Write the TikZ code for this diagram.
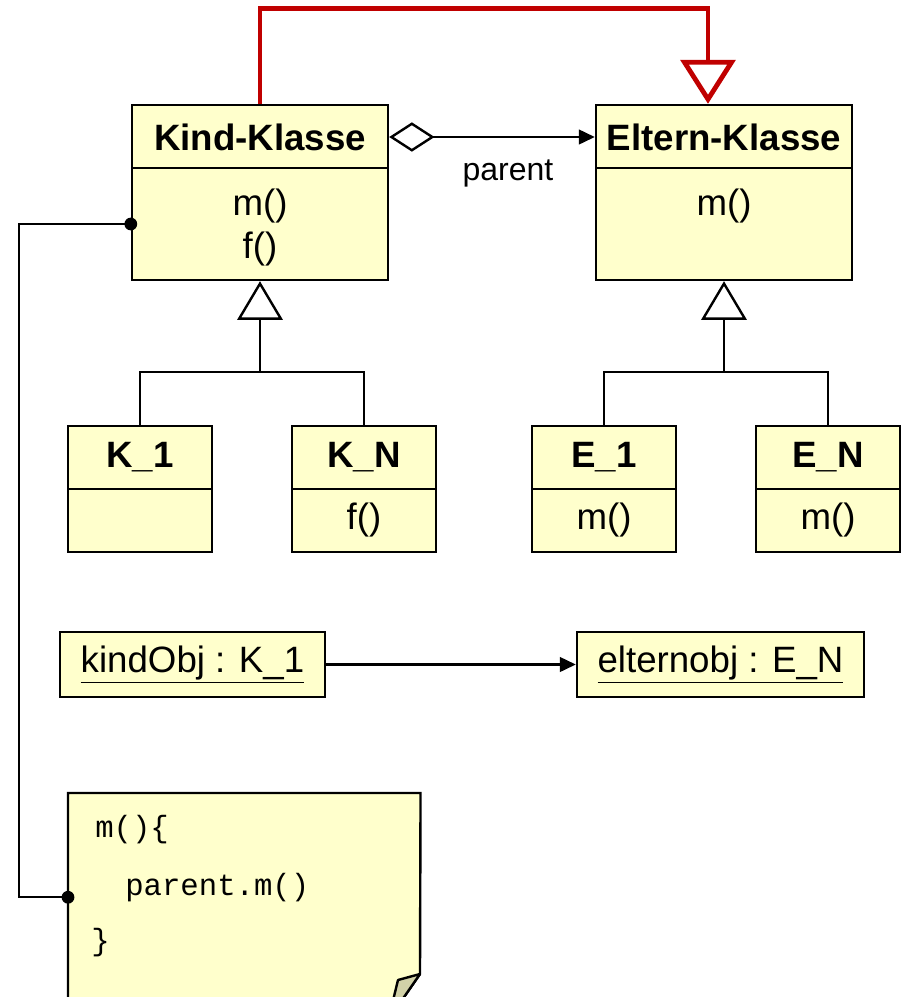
\documentclass[tikz,border=0pt]{standalone}
\usepackage{fontspec}
\setmainfont{Liberation Sans}
\setmonofont{Liberation Mono}
\usetikzlibrary{arrows.meta}
\definecolor{boxfill}{HTML}{FFFFCC}
\definecolor{foldfill}{HTML}{D2D2A8}
\definecolor{inhred}{HTML}{C00000}

\begin{document}
\begin{tikzpicture}[x=0.75pt,y=-0.75pt,
  ln/.style={line width=1.8pt},
  box/.style 2 args={draw, ln, fill=boxfill, inner sep=0pt,
    minimum width=#1*0.75pt, minimum height=#2*0.75pt,
    font=\fontsize{27.5}{32}\selectfont},
  hdr/.style={font=\bfseries\fontsize{27.5}{32}\selectfont},
  txt/.style={inner sep=0pt, font=\fontsize{27.5}{32}\selectfont},
  code/.style={inner sep=0pt, anchor=base west, font=\ttfamily\fontsize{23}{28}\selectfont},
  gen/.style={draw, ln, -{Triangle[open, length=29pt, width=34pt]}},
  nav/.style={draw, ln, -{Triangle[length=12pt, width=11pt]}},
  agg/.style={draw, ln, {Diamond[open, length=34pt, width=22pt]}-{Triangle[length=12pt, width=11pt]}},
  redinh/.style={draw=inhred, line width=3.6pt, -{Triangle[open, length=33pt, width=41pt]}},
  dot/.style={fill=black}
]
\useasboundingbox (0,0) rectangle (904,997);
\clip (0,0) rectangle (904,997);

% abstract classes
\node[box={256}{64}, hdr] (kindh) at (260,137) {Kind-Klasse};
\node[box={256}{112}] (kindb) at (260,224) {};
\node[txt, align=center] at (260,227.5) {m()\\f()};

\node[box={256}{64}, hdr] (elth) at (724,137) {Eltern-Klasse};
\node[box={256}{112}] (eltb) at (724,224) {};
\node[txt] at (724,206) {m()};

% concrete subclasses
\node[box={144}{63}, hdr] (k1h) at (140,457.5) {K\_1};
\node[box={144}{63}] (k1b) at (140,520.5) {};
\node[box={144}{63}, hdr] (knh) at (364,457.5) {K\_N};
\node[box={144}{63}] (knb) at (364,520.5) {f()};

\node[box={144}{63}, hdr] (e1h) at (604,457.5) {E\_1};
\node[box={144}{63}] (e1b) at (604,520.5) {m()};
\node[box={144}{63}, hdr] (enh) at (828,457.5) {E\_N};
\node[box={144}{63}] (enb) at (828,520.5) {m()};

% objects
\node[box={265}{65}] (kobj) at (192.5,664.5) {\underline{kindObj : K\_1}};
\node[box={287}{65}] (eobj) at (720.5,664.5) {\underline{elternobj : E\_N}};

% note with folded corner
\node[minimum width=352*0.75pt, minimum height=208*0.75pt, inner sep=0pt, anchor=north west] (note) at (68,793) {};
\draw[ln, fill=boxfill] (note.north west) -- (note.north east) -- (420,974) -- (393,1013) -- (note.south west |- 0,1013) -- cycle;
\draw[ln, fill=foldfill, line join=round] (420,974) -- (398,980) -- (390,1013) -- (393,1013) -- cycle;
\node[code] at (95,837) {m()\{};
\node[code] at (125,895) {parent.m()};
\node[code] at (91,950) {\}};

% inheritance trees
\coordinate (kj) at (260,372);
\draw[ln] (k1h.north) |- (kj) -| (knh.north);
\draw[gen] (kj) -- (kindb.south);
\coordinate (ej) at (724,372);
\draw[ln] (e1h.north) |- (ej) -| (enh.north);
\draw[gen] (ej) -- (eltb.south);

% aggregation
\draw[agg] (kindh.east) -- (elth.west);
\node[inner sep=0pt, font=\fontsize{24}{28}\selectfont] at (508,173) {parent};

% red inheritance relation
\draw[redinh] (kindh.north) -- ++(0,-95) -| ([xshift=-12pt]elth.north);

% object link
\draw[nav] (kobj.east) -- (eobj.west);

% note anchor
\draw[ln] (kindb.west) -- ++(-112,0) |- (note.west);
\fill[dot] (kindb.west) circle[radius=4.8pt];
\fill[dot] (note.west) circle[radius=4.8pt];
\end{tikzpicture}
\end{document}
